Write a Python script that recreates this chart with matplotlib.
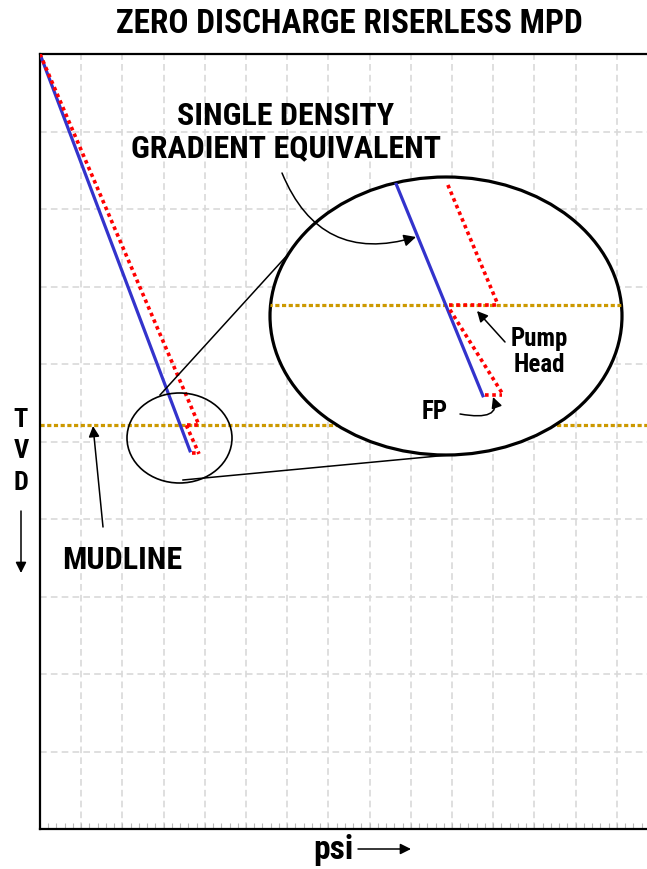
import matplotlib
matplotlib.use('Agg')
import numpy
import matplotlib.pyplot as plt
from matplotlib import font_manager
from matplotlib.patches import Ellipse

# main chart, psi in grid units, tvd in grid units (down is deeper)
blue_psi = [0.0, 3.64]
blue_tvd = [0.0, 5.12]
mudline_tvd = 4.79
red_upper_psi = [0.0, 3.86]
red_upper_tvd = [0.0, 4.79]
red_head_psi = [3.57, 3.86]
red_lower_psi = [3.55, 3.86]
red_lower_tvd = [4.79, 5.16]
red_fp_psi = [3.70, 3.86]
red_fp_tvd = [5.15, 5.15]

# magnified view inside the big ellipse
inset_blue_psi = [8.60, 10.75]
inset_blue_tvd = [1.62, 4.41]
inset_mud_tvd = 3.24
inset_red_upper_psi = [9.90, 11.12]
inset_red_upper_tvd = [1.69, 3.24]
inset_red_head_psi = [9.93, 11.12]
inset_red_lower_psi = [9.95, 11.21]
inset_red_lower_tvd = [3.30, 4.37]
inset_red_fp_psi = [10.80, 11.21]
inset_red_fp_tvd = [4.40, 4.40]

BLUE = '#3333cc'
RED = '#ff0000'
GOLD = '#cc9900'


def pick_narrow_bold():
	prefs = ['Liberation Sans Narrow', 'Arial Narrow', 'Roboto Condensed',
		'Open Sans Condensed', 'Noto Sans', 'DejaVu Sans', 'Roboto', 'Open Sans']
	narrow = ('condensed', 'semi-condensed', 'extra-condensed', 'ultra-condensed')
	for name in prefs:
		for f in font_manager.fontManager.ttflist:
			if f.name != name:
				continue
			try:
				weight = int(f.weight)
			except (TypeError, ValueError):
				weight = 700 if 'bold' in str(f.weight) else 400
			if weight < 600 or weight > 800 or f.style != 'normal':
				continue
			if 'Narrow' in name or 'Condensed' in name or str(f.stretch) in narrow:
				return font_manager.FontProperties(fname=f.fname)
	return font_manager.FontProperties(family='DejaVu Sans', weight='bold')


FONT = pick_narrow_bold()

W, H = 647, 869
fig = plt.figure(figsize=(W / 100, H / 100), dpi=100)
ax = fig.add_axes([40 / W, 40 / H, 618 / W, 775 / H])
ax.set_xlim(0, 15)
ax.set_ylim(10, 0)


def P(x, y):
	# picture pixel -> data units
	return ((x - 40) / 41.2, (y - 54) / 77.5)


def label(xy, s, size, width=None, **kw):
	t = ax.text(*xy, s, ha='center', va='center', fontproperties=FONT,
		clip_on=False, zorder=8, **kw)
	t.set_fontsize(size)
	if width:
		w = t.get_window_extent(fig.canvas.get_renderer()).width
		t.set_fontsize(min(size, size * width / w))
	return t


for side in ['left', 'top', 'bottom']:
	ax.spines[side].set_linewidth(1.6)
ax.spines['right'].set_visible(False)

ax.set_xticks(numpy.arange(0, 16, 1))
ax.set_xticks(numpy.arange(0, 15.01, 0.2), minor=True)
ax.set_yticks(numpy.arange(0, 11, 1))
ax.tick_params(axis='x', which='both', direction='in', length=4.5, width=0.8,
	color='#bbbbbb', labelbottom=False)
ax.tick_params(axis='y', length=0, labelleft=False)
ax.set_axisbelow(True)
ax.grid(True, which='major', color='#d9d9d9', lw=1.2, ls=(0, (4, 2.5)))

# main lines
ax.axhline(mudline_tvd, color=GOLD, lw=2.3, ls=(0, (1.3, 0.8)), zorder=2)
ax.plot(blue_psi, blue_tvd, color=BLUE, lw=2.3, zorder=3)
dot = dict(color=RED, lw=2.6, ls=(0, (1, 1)), zorder=3)
ax.plot(red_upper_psi, red_upper_tvd, **dot)
ax.plot(red_head_psi, [mudline_tvd] * 2, **dot)
ax.plot(red_lower_psi, red_lower_tvd, **dot)
ax.plot(red_fp_psi, red_fp_tvd, **dot)

# small circle and connectors
small = Ellipse(P(179.5, 438), 105 / 41.2, 90 / 77.5, fc='none', ec='black',
	lw=1.2, zorder=4)
ax.add_patch(small)
ax.plot(*zip(P(160, 395), P(292, 250)), color='black', lw=1.1, zorder=4)
ax.plot(*zip(P(183, 480), P(470, 453)), color='black', lw=1.1, zorder=4)

# big magnified ellipse
big = Ellipse(P(446, 316), 352 / 41.2, 278 / 77.5, fc='white', ec='black',
	lw=2.3, zorder=5)
ax.add_patch(big)
inset_lines = []
inset_lines += ax.plot([0, 15], [inset_mud_tvd] * 2, color=GOLD, lw=2.3,
	ls=(0, (1.3, 0.8)), zorder=6)
inset_lines += ax.plot(inset_blue_psi, inset_blue_tvd, color=BLUE, lw=2.3, zorder=6)
idot = dict(dot, zorder=7)
inset_lines += ax.plot(inset_red_upper_psi, inset_red_upper_tvd, **idot)
inset_lines += ax.plot(inset_red_head_psi, [inset_mud_tvd] * 2, **idot)
inset_lines += ax.plot(inset_red_lower_psi, inset_red_lower_tvd, **idot)
inset_lines += ax.plot(inset_red_fp_psi, inset_red_fp_tvd, **idot)
for ln in inset_lines:
	ln.set_clip_path(big)

# labels and arrows
arrow = dict(arrowstyle='-|>', color='black', lw=1.1, mutation_scale=16,
	shrinkA=0, shrinkB=0)

label(P(286, 132), 'SINGLE DENSITY\nGRADIENT EQUIVALENT', 23, width=318,
	linespacing=1.1)
ax.annotate('', xy=P(416, 237), xytext=P(282, 173), zorder=8,
	arrowprops=dict(arrow, mutation_scale=18, connectionstyle='arc3,rad=0.45'))

label(P(122, 560), 'MUDLINE', 23, width=121)
ax.annotate('', xy=P(93, 426), xytext=P(103, 527), zorder=8, arrowprops=arrow)

label(P(539, 352), 'Pump\nHead', 18, width=60, linespacing=1.15)
ax.annotate('', xy=P(477, 311), xytext=P(505, 342), zorder=8, arrowprops=arrow)

label(P(435, 412), 'FP', 18, width=28)
ax.annotate('', xy=P(493, 397), xytext=P(460, 414), zorder=8,
	arrowprops=dict(arrow, connectionstyle='angle3,angleA=-10,angleB=-70'))

label(P(349, 24), 'ZERO DISCHARGE RISERLESS MPD', 24, width=472)

for letter, y in zip('TVD', [420, 451, 483]):
	label(P(21, y), letter, 19)
ax.annotate('', xy=P(21, 573), xytext=P(21, 511), annotation_clip=False,
	arrowprops=arrow)

label(P(333, 850), 'psi', 24, width=42)
ax.annotate('', xy=P(411, 849), xytext=P(358, 849), annotation_clip=False,
	arrowprops=arrow)

fig.savefig('out.png', dpi=100)
